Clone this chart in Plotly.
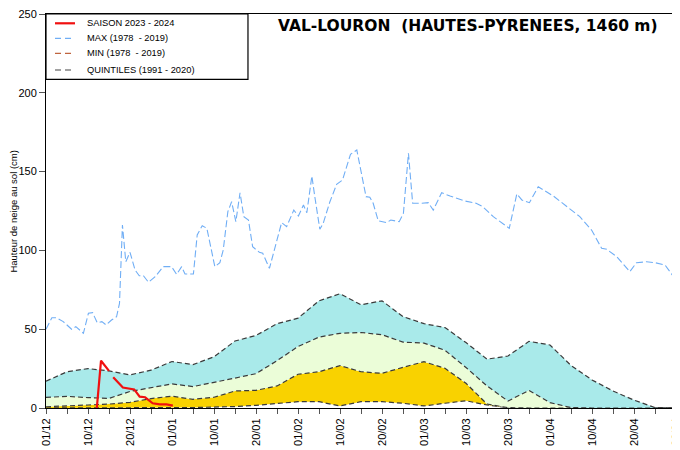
import plotly.graph_objects as go

# ---------------- DATA ----------------
tick_labels = ["01/12", "10/12", "20/12", "01/01", "10/01", "20/01", "01/02", "10/02",
               "20/02", "01/03", "10/03", "20/03", "01/04", "10/04", "20/04", "30/04"]

# quintile periods (in dekads since 01/12) and values (cm)
q_periods = [0, 0.5, 1, 1.5, 2, 2.5, 3, 3.5, 4, 4.5, 5, 5.5, 6, 6.5, 7, 7.5, 8, 8.5, 9, 9.5,
             10, 10.5, 11, 11.5, 12, 12.5, 13, 13.5, 14, 14.5, 15]
q20 = [0, 0, 0, 0, 0, 0, 0.2, 0.3, 0.6, 0.9, 1.7, 3.0, 4.0, 4.0, 1.3, 4.0, 4.0, 3.0, 1.3, 3.0,
       4.6, 1.9, 0.2, 0, 0, 0, 0, 0, 0, 0, 0]
q40 = [0.8, 1.2, 1.9, 2.5, 3.6, 6.0, 7.5, 5.5, 6.8, 10.8, 11.2, 14.0, 21.4, 23.0, 26.9, 23.0,
       22.0, 25.8, 29.4, 25.2, 15.7, 2.5, 0.2, 0, 0, 0, 0, 0, 0, 0, 0]
q60 = [6.7, 7.4, 6.6, 6.1, 10.5, 13.0, 15.3, 13.6, 16.5, 19.0, 21.8, 30.0, 39.0, 45.0, 47.4,
       47.9, 46.5, 41.8, 41.2, 36.6, 25.7, 14.0, 4.4, 11.2, 3.4, 0.3, 0, 0, 0, 0, 0]
q80 = [17.0, 23.0, 25.0, 23.5, 21.0, 24.0, 29.5, 27.5, 32.5, 42.5, 46.0, 53.5, 57.0, 68.0,
       72.5, 65.5, 68.0, 58.0, 53.5, 51.0, 41.5, 31.0, 33.0, 42.3, 40.0, 27.0, 17.8, 10.8,
       5.0, 0.3, 0]

# max (1978 - 2019)
max_x = [0, 0.14, 0.25, 0.41, 0.61, 0.71, 0.89, 1.01, 1.11, 1.22, 1.33, 1.43, 1.56, 1.68,
         1.75, 1.82, 1.90, 2.00, 2.12, 2.22, 2.32, 2.44, 2.60, 2.79, 2.99, 3.11, 3.23, 3.31,
         3.51, 3.60, 3.72, 3.83, 4.02, 4.14, 4.22, 4.33, 4.42, 4.52, 4.62, 4.71, 4.82, 4.92,
         5.08, 5.16, 5.32, 5.45, 5.61, 5.73, 5.90, 6.01, 6.13, 6.21, 6.33, 6.40, 6.52, 6.60,
         6.76, 6.92, 7.06, 7.25, 7.40, 7.62, 7.71, 7.79, 7.91, 8.11, 8.21, 8.41, 8.51, 8.63,
         8.73, 8.95, 9.10, 9.22, 9.42, 9.62, 9.98, 10.24, 10.40, 10.65, 11.03, 11.21, 11.33,
         11.51, 11.72, 12.08, 12.55, 12.71, 12.99, 13.23, 13.35, 13.59, 13.90, 14.06, 14.30,
         14.50, 14.74, 15.0]
max_v = [50, 57.3, 57.3, 54.8, 50, 51.6, 47.4, 60.1, 60.5, 54.1, 54.8, 52.7, 55.8, 57.9,
         66.4, 116.1, 92.8, 98.8, 87.6, 83.9, 83.9, 79.8, 83.3, 89.7, 89.7, 84.8, 89.7, 85,
         85, 109.8, 115.7, 114, 89.7, 92.2, 100.3, 124.6, 130.9, 118.2, 136.6, 121.4, 119.3,
         102.3, 98.8, 98.2, 88.6, 102.3, 117.6, 115.1, 125.6, 121.8, 128.8, 123.9, 147.2,
         134.1, 113.4, 117.2, 130.9, 141.9, 144.7, 161, 163.7, 134.1, 133.7, 129.9, 118.8,
         117.6, 119.3, 118.2, 123.5, 161.6, 129.9, 129.9, 130.3, 125.6, 136.6, 134.5, 131.3,
         129.9, 127.7, 121.4, 114, 135.8, 132, 130.3, 140.4, 134.5, 124.6, 121.4, 112.9,
         101.3, 100.7, 96, 86.5, 92.2, 92.8, 92.2, 90.7, 81.2]

# season 2023 - 2024
season_x = [1.21, 1.31, 1.50, 1.55, 1.60, 1.83, 2.10, 2.23, 2.36, 2.54, 2.71, 2.87, 3.02]
season_v = [0, 30.0, 23.6, None, 19.5, 13.0, 11.8, 7.2, 6.8, 3.0, 2.3, 2.3, 1.5]

legend_labels = ["SAISON 2023 - 2024", "MAX (1978  - 2019)", "MIN (1978  - 2019)",
                 "QUINTILES (1991 - 2020)"]
title_text = "VAL-LOURON\u00a0\u00a0(HAUTES-PYRENEES, 1460 m)"

# ---------------- FIGURE ----------------
FONT = "Liberation Sans, Arial, sans-serif"
QDASH = "5px,3px"
QCOL = "#3a3a3a"

fig = go.Figure()
fig.add_trace(go.Scatter(x=q_periods, y=q20, mode="lines",
                         line=dict(color=QCOL, width=1.2, dash=QDASH), hoverinfo="skip"))
fig.add_trace(go.Scatter(x=q_periods, y=q40, mode="lines", fill="tonexty",
                         fillcolor="#f9d200",
                         line=dict(color=QCOL, width=1.2, dash=QDASH), hoverinfo="skip"))
fig.add_trace(go.Scatter(x=q_periods, y=q60, mode="lines", fill="tonexty",
                         fillcolor="#ebfdd8",
                         line=dict(color=QCOL, width=1.2, dash=QDASH), hoverinfo="skip"))
fig.add_trace(go.Scatter(x=q_periods, y=q80, mode="lines", fill="tonexty",
                         fillcolor="#a9eaea",
                         line=dict(color=QCOL, width=1.2, dash=QDASH), hoverinfo="skip"))
fig.add_trace(go.Scatter(x=max_x, y=max_v, mode="lines",
                         line=dict(color="#70aef5", width=1.1, dash="7px,3px")))
fig.add_trace(go.Scatter(x=season_x, y=season_v, mode="lines", connectgaps=False,
                         line=dict(color="#f01010", width=2.2)))

# the page body has an 8px default margin: the figure is sized to fit inside it
fig.update_layout(
    width=672, height=442,
    margin=dict(l=38, r=4, t=6, b=42, autoexpand=False),
    paper_bgcolor="white", plot_bgcolor="white",
    showlegend=False,
    font=dict(family=FONT, size=11, color="black"),
)
fig.update_xaxes(
    range=[0, 15], tickmode="array", tickvals=list(range(16)), ticktext=tick_labels,
    tickangle=-90, ticks="outside", ticklen=5, tickcolor="#555", tickwidth=1,
    tickfont=dict(size=11, family=FONT), automargin=False, ticklabeloverflow="allow",
    minor=dict(dtick=0.5, tick0=0, ticks="outside", ticklen=5, tickcolor="#555"),
    showgrid=False, zeroline=False, showline=True, linecolor="black", linewidth=1,
    mirror=True,
)
fig.update_yaxes(
    range=[0, 250], tickvals=[0, 50, 100, 150, 200, 250], ticks="outside", ticklen=6,
    tickcolor="#555", tickfont=dict(size=11, family=FONT), automargin=False,
    ticklabeloverflow="allow",
    showgrid=False, zeroline=False, showline=True, linecolor="black", linewidth=1,
    mirror=True,
)

# y-axis title
fig.add_annotation(text="Hauteur de neige au sol (cm)", textangle=-90, xref="paper",
                   yref="paper", x=-0.053, y=0.5, showarrow=False,
                   font=dict(size=9.5, family=FONT), xanchor="center", yanchor="middle")
# title
fig.add_annotation(text="<b>" + title_text + "</b>", xref="paper", yref="paper",
                   x=0.67, y=0.9695, showarrow=False, xanchor="center", yanchor="middle",
                   font=dict(size=15.5, family="DejaVu Sans, sans-serif"))

# manual legend
fig.add_shape(type="rect", xref="paper", yref="paper", x0=0, x1=0.3206, y0=0.8343, y1=1,
              line=dict(color="black", width=1.2), fillcolor="white", layer="above")
leg_styles = [("#f01010", "solid", 2.2), ("#70aef5", "6px,4px", 1.2),
              ("#c0643e", "6px,4px", 1.2), ("#444444", "6px,4px", 1.2)]
leg_y = [0.9764, 0.9383, 0.9003, 0.8579]
for lab, (col, dash, w), yy in zip(legend_labels, leg_styles, leg_y):
    fig.add_shape(type="line", xref="paper", yref="paper", x0=0.0143, x1=0.046, y0=yy, y1=yy,
                  line=dict(color=col, width=w, dash=dash), layer="above")
    fig.add_annotation(text=lab, xref="paper", yref="paper", x=0.0619, y=yy, showarrow=False,
                       xanchor="left", yanchor="middle", font=dict(size=9.3, family=FONT))

fig.write_html("out.html")
